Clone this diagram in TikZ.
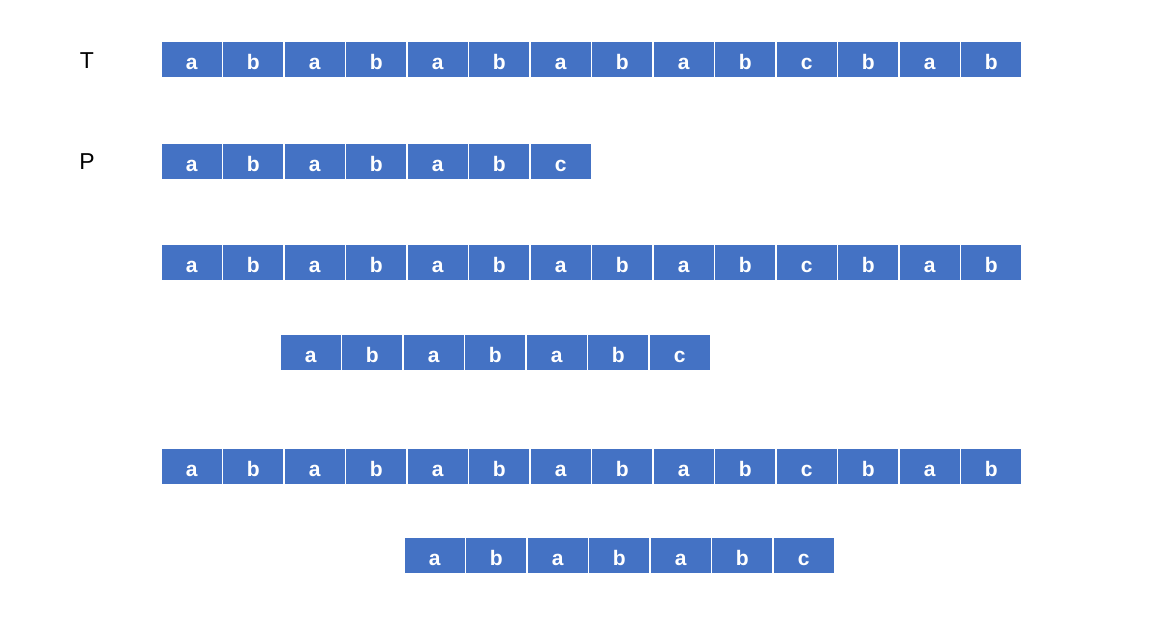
\documentclass[tikz,border=0pt]{standalone}
\usepackage{fontspec}
\setmainfont{Liberation Sans}
\definecolor{cellblue}{HTML}{4472C4}
\begin{document}
\begin{tikzpicture}[x=1pt,y=-1pt,
  cell/.style={draw=white,line width=1.2pt,fill=cellblue,minimum width=61.5pt,minimum height=37pt,inner sep=0pt,outer sep=0pt,text height=19pt,text depth=0pt,anchor=north west,text=white,font=\fontsize{21}{21}\selectfont\bfseries},
  lbl/.style={font=\fontsize{23}{23}\selectfont,text=black}]
\useasboundingbox (0,0) rectangle (1172,625);
\node[lbl] (T) at (87,61) {T};
\node[lbl] (P) at (87,162) {P};
\foreach \c [count=\i from 0] in {a,b,a,b,a,b,a,b,a,b,c,b,a,b} {
  \node[cell] (ta\i) at (161+61.5*\i,41) {\c};
  \node[cell] (tb\i) at (161+61.5*\i,244) {\c};
  \node[cell] (tc\i) at (161+61.5*\i,448) {\c};
}
\foreach \c [count=\i from 0] in {a,b,a,b,a,b,c} {
  \node[cell] (pa\i) at (161+61.5*\i,143) {\c};
  \node[cell] (pb\i) at (280+61.5*\i,334) {\c};
  \node[cell] (pc\i) at (404+61.5*\i,537) {\c};
}
\end{tikzpicture}
\end{document}
